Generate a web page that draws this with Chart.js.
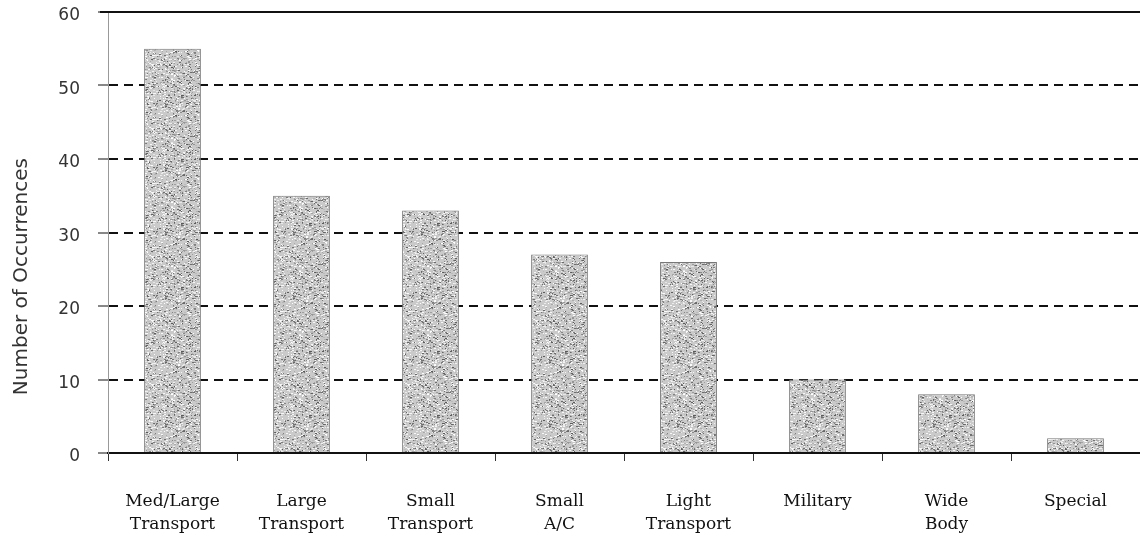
<!DOCTYPE html>
<html>
<head>
<meta charset="utf-8">
<script src="https://cdn.jsdelivr.net/npm/chart.js@4"></script>
<style>
  html, body { margin: 0; padding: 0; background: #fff; }
  #wrap { width: 1140px; height: 543px; position: relative; }
</style>
</head>
<body>
<div id="wrap"><canvas id="chart"></canvas></div>
<script>
// Data
const categories = [
  ["Med/Large", "Transport"],
  ["Large", "Transport"],
  ["Small", "Transport"],
  ["Small", "A/C"],
  ["Light", "Transport"],
  ["Military"],
  ["Wide", "Body"],
  ["Special"]
]
const occurrences = [55, 35, 33, 27, 26, 10, 8, 2]
const yTicks = [0, 10, 20, 30, 40, 50, 60]
const yTitle = "Number of Occurrences"

// speckled grey fill, like the scanned print
function makeSpeckle() {
  const c = document.createElement("canvas")
  c.width = 64
  c.height = 64
  const g = c.getContext("2d")
  g.fillStyle = "#cacaca"
  g.fillRect(0, 0, 64, 64)
  let s = 7
  const rnd = () => {
    s = (s * 16807) % 2147483647
    return s / 2147483647
  }
  for (let i = 0; i < 1300; i++) {
    const v = rnd() < 0.4 ? 230 + Math.floor(rnd() * 25) : Math.floor(90 + rnd() * 110)
    g.fillStyle = `rgb(${v},${v},${v})`
    g.fillRect(Math.floor(rnd() * 64), Math.floor(rnd() * 64), 1 + Math.floor(rnd() * 2), 1)
  }
  return c
}

// solid line at the top of the scale + the rotated axis title
const extras = {
  id: "extras",
  afterDraw(chart) {
    const y = chart.scales.y
    const area = chart.chartArea
    const ctx = chart.ctx
    const py = y.getPixelForValue(60)
    ctx.save()
    ctx.strokeStyle = "#111"
    ctx.lineWidth = 2
    ctx.beginPath()
    ctx.moveTo(area.left - 8, py)
    ctx.lineTo(area.right, py)
    ctx.stroke()

    ctx.translate(22, area.top + (area.bottom - area.top) * 0.6)
    ctx.rotate(-Math.PI / 2)
    ctx.fillStyle = "#333"
    ctx.font = "20px 'DejaVu Sans'"
    ctx.textAlign = "center"
    ctx.textBaseline = "middle"
    ctx.fillText(yTitle, 0, 0)
    ctx.restore()
  }
}

const ctx = document.getElementById("chart").getContext("2d")
const speckle = ctx.createPattern(makeSpeckle(), "repeat")

new Chart(ctx, {
  type: "bar",
  data: {
    labels: categories,
    datasets: [
      {
        data: occurrences,
        backgroundColor: speckle,
        borderColor: "#777",
        borderWidth: 1,
        barPercentage: 0.44,
        categoryPercentage: 1
      }
    ]
  },
  options: {
    responsive: true,
    maintainAspectRatio: false,
    animation: false,
    layout: { padding: { top: 12, right: 0, left: 6, bottom: 0 } },
    plugins: {
      legend: { display: false },
      tooltip: { enabled: false }
    },
    scales: {
      x: {
        offset: true,
        grid: {
          display: true,
          offset: true,
          drawOnChartArea: false,
          tickLength: 8,
          color: "#333",
          lineWidth: 1
        },
        border: { display: true, color: "#111", width: 2 },
        ticks: {
          color: "#111",
          padding: 30,
          maxRotation: 0,
          autoSkip: false,
          font: { family: "DejaVu Serif", size: 17, lineHeight: 1.3 }
        },
        afterFit(scale) {
          scale.height = 90
        }
      },
      y: {
        min: 0,
        max: 60,
        afterBuildTicks(scale) {
          scale.ticks = yTicks.map((v) => ({ value: v }))
        },
        grid: {
          color: (c) => (c.tick && (c.tick.value === 0 || c.tick.value === 60) ? "rgba(0,0,0,0)" : "#111"),
          lineWidth: 2,
          tickLength: 10,
          tickColor: "#111",
          tickWidth: 1
        },
        border: { display: true, color: "#999", width: 1, dash: [9, 6] },
        ticks: {
          color: "#333",
          padding: 18,
          labelOffset: 4,
          font: { family: "DejaVu Sans", size: 17 }
        },
        afterFit(scale) {
          scale.width = 102
          scale.paddingTop = 0
          scale.paddingBottom = 0
        }
      }
    }
  },
  plugins: [extras]
})
</script>
</body>
</html>
